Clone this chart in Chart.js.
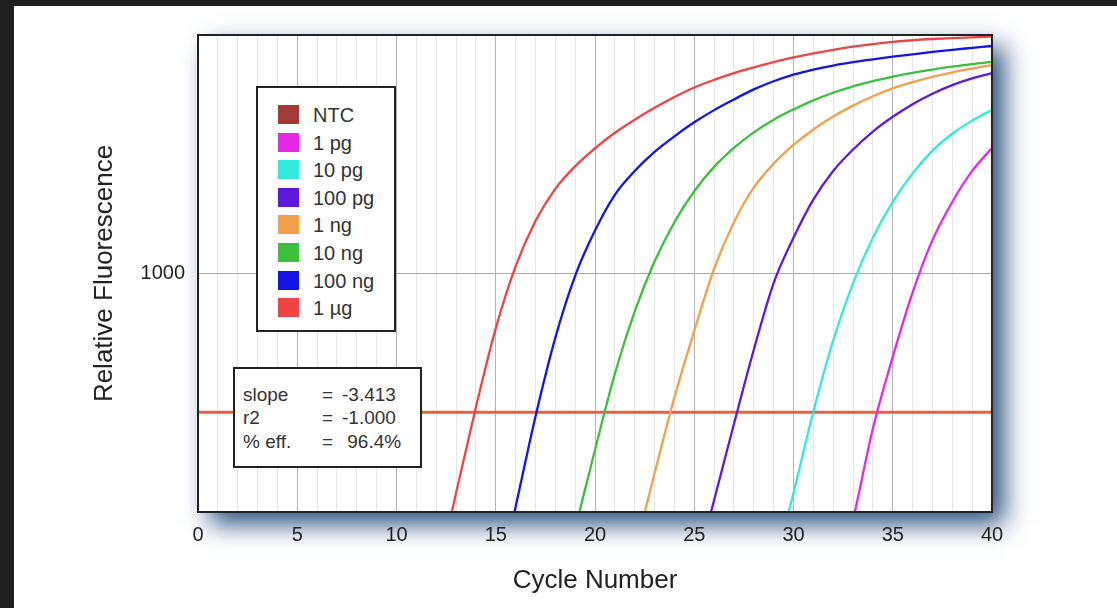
<!DOCTYPE html>
<html lang="en">
<head>
  <meta charset="UTF-8">
  <title>Amplification Plot</title>
  <script src="https://cdn.jsdelivr.net/npm/chart.js"></script>
  <style>
    body { margin: 0; background: #1e1e1e; overflow: hidden; font-family: "Liberation Sans", Arial, sans-serif; }
    #wrap { position: absolute; left: 14px; top: 6px; width: 1103px; height: 602px; background: #fff; }
    .box { position: absolute; background: #fff; border: 2px solid #222; color: #333; }
    #legend { left: 256px; top: 86px; width: 136px; height: 242px; }
    #legend .row { position: absolute; left: 20px; height: 20px; font-size: 20px; line-height: 20px; white-space: nowrap; }
    #legend .sw { display: inline-block; width: 21px; height: 19px; vertical-align: top; margin-right: 14px; }
    #stats { left: 233px; top: 367px; width: 185px; height: 97px; font-size: 19px; }
    #stats span { position: absolute; white-space: pre; line-height: 20px; }
  </style>
</head>
<body>

<div id="wrap"><canvas id="amp"></canvas></div>
<div id="legend" class="box"></div>
<div id="stats" class="box"></div>

<script>
  // cycles 0..40 on the x axis, log fluorescence on y
  const seriesNames = ['NTC', '1 pg', '10 pg', '100 pg', '1 ng', '10 ng', '100 ng', '1 µg'];
  const seriesColors = ['#a33a3a', '#e628e6', '#32eadb', '#6018dc', '#f2a04c', '#3cbf3c', '#1414e6', '#ee4444'];
  const firstCycle = [null, 32, 29, 25, 21, 18, 15, 12];

  const ntc = [];
  const pg1 = [45, 93, 224, 447, 832, 1380, 1995, 2692, 3357];
  const pg10 = [56, 120, 263, 525, 912, 1413, 1995, 2630, 3273, 3855, 4375, 4853];
  const pg100 = [54, 112, 234, 479, 912, 1413, 2042, 2692, 3311, 3936, 4539, 5129, 5675, 6166, 6577, 6918];
  const ng1 = [32, 68, 145, 302, 575, 1047, 1641, 2291, 2884, 3459, 4018, 4550, 5058, 5534, 5970, 6339, 6668, 6966, 7228, 7482];
  const ng10 = [40, 85, 182, 380, 692, 1122, 1641, 2213, 2799, 3365, 3908, 4416, 4875, 5321, 5728, 6095, 6412, 6683, 6934, 7161, 7362, 7551, 7709];
  const ng100 = [44, 105, 251, 537, 977, 1514, 2138, 2692, 3236, 3758, 4305, 4842, 5370, 5916, 6397, 6823, 7161, 7447, 7691, 7907, 8110, 8299, 8492, 8670, 8831, 8995];
  const ug1 = [50, 120, 275, 589, 1072, 1660, 2265, 2818, 3350, 3890, 4416, 4955, 5495, 6026, 6486, 6918, 7311, 7691, 8054, 8375, 8670, 8933, 9162, 9354, 9506, 9620, 9700, 9780, 9850];
  const seriesValues = [ntc, pg1, pg10, pg100, ng1, ng10, ng100, ug1];

  const thresholdValue = 262;
  const xTicks = [0, 5, 10, 15, 20, 25, 30, 35, 40];
  const yTicks = [1000];

  const statLabels = ['slope', 'r2', '% eff.'];
  const statValues = ['-3.413', '-1.000', ' 96.4%'];

  const FONT = '"Liberation Sans", Arial, sans-serif';

  // legend + stats boxes
  const legend = document.getElementById('legend');
  seriesNames.forEach((name, i) => {
    const row = document.createElement('div');
    row.className = 'row';
    row.style.top = (17 + i * 27.6) + 'px';
    row.innerHTML = '<span class="sw" style="background:' + seriesColors[i] + '"></span>' + name;
    legend.appendChild(row);
  });
  const stats = document.getElementById('stats');
  statLabels.forEach((lab, i) => {
    const top = 16 + i * 23.3;
    stats.insertAdjacentHTML('beforeend',
      '<span style="left:8px;top:' + top + 'px">' + lab + '</span>' +
      '<span style="left:87px;top:' + top + 'px">=</span>' +
      '<span style="left:107px;top:' + top + 'px">' + statValues[i] + '</span>');
  });

  const datasets = seriesNames.map((name, i) => ({
    label: name,
    data: seriesValues[i].map((v, k) => ({ x: firstCycle[i] + k, y: v })),
    borderColor: seriesColors[i],
    borderWidth: 2.3,
    pointRadius: 0,
    fill: false,
    cubicInterpolationMode: 'monotone'
  }));
  datasets.push({
    label: 'threshold',
    data: [{ x: 0, y: thresholdValue }, { x: 40, y: thresholdValue }],
    borderColor: '#e8603c',
    borderWidth: 3,
    pointRadius: 0,
    order: 1
  });

  // white plot panel with a blue drop shadow, and a dark frame
  const panel = {
    id: 'panel',
    beforeDraw(chart) {
      const { ctx, chartArea: a } = chart;
      ctx.save();
      ctx.shadowColor = 'rgba(30, 70, 120, 0.95)';
      ctx.shadowBlur = 24;
      ctx.shadowOffsetX = 12;
      ctx.shadowOffsetY = 12;
      ctx.fillStyle = '#fff';
      ctx.fillRect(a.left, a.top, a.right - a.left, a.bottom - a.top);
      ctx.restore();
    },
    afterDatasetsDraw(chart) {
      const { ctx, chartArea: a } = chart;
      ctx.save();
      ctx.strokeStyle = '#222';
      ctx.lineWidth = 2;
      ctx.strokeRect(a.left, a.top, a.right - a.left, a.bottom - a.top);
      ctx.restore();
    }
  };

  new Chart(document.getElementById('amp'), {
    type: 'line',
    data: { datasets },
    plugins: [panel],
    options: {
      responsive: true,
      maintainAspectRatio: false,
      animation: false,
      layout: { padding: { top: 29, right: 125, left: 0, bottom: 0 } },
      plugins: { legend: { display: false }, tooltip: { enabled: false } },
      scales: {
        x: {
          type: 'linear',
          min: 0,
          max: 40,
          afterFit(s) { s.height = 96; },
          border: { display: false },
          grid: {
            drawTicks: false,
            color: c => (c.tick && xTicks.includes(c.tick.value)) ? '#b4b4b4' : '#e6e6e6'
          },
          ticks: {
            stepSize: 1,
            autoSkip: false,
            maxRotation: 0,
            padding: 11,
            color: '#222',
            font: { family: FONT, size: 20 },
            callback: v => xTicks.includes(v) ? String(v) : ''
          },
          title: {
            display: true,
            text: 'Cycle Number',
            color: '#222',
            font: { family: FONT, size: 26 },
            padding: { top: 0, bottom: 12 }
          }
        },
        y: {
          type: 'logarithmic',
          min: 100,
          max: 10000,
          afterFit(s) { s.width = 184; },
          afterBuildTicks(s) { s.ticks = yTicks.map(v => ({ value: v })); },
          border: { display: false },
          grid: { drawTicks: false, color: '#aaaaaa' },
          ticks: {
            padding: 13,
            color: '#222',
            font: { family: FONT, size: 20 },
            callback: v => String(v)
          },
          title: {
            display: true,
            text: 'Relative Fluorescence',
            color: '#222',
            font: { family: FONT, size: 26 },
            padding: { top: 75, bottom: 0 }
          }
        }
      }
    }
  });
</script>

</body>
</html>
